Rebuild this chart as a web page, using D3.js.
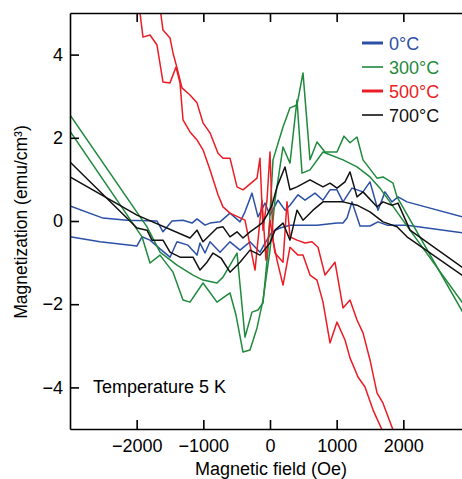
<!DOCTYPE html>
<html>
<head>
<meta charset="utf-8">
<script src="https://cdn.jsdelivr.net/npm/d3@7"></script>
<style>
  body { margin: 0; background: #fff; }
  svg { display: block; font-family: "Liberation Sans", Arial, Helvetica, sans-serif; }
</style>
</head>
<body>
<div id="chart"></div>
<script>
// Chart size
var width = 462;
var height = 479;

// Tick values
var xTicks = [-2000, -1000, 0, 1000, 2000];
var yTicks = [-4, -2, 0, 2, 4];

// Legend labels
var seriesNames = ["0°C", "300°C", "500°C", "700°C"];

// Data: [field (Oe), magnetization (emu/cm3)], two branches per sample
var blueA = [[-3000,0.36],[-2505,0.07],[-2145,0.02],[-1695,0.00],[-1605,-0.26],[-1470,0.00],[-1305,0.02],[-1170,-0.05],[-1095,0.05],[-975,-0.10],[-900,-0.05],[-750,-0.02],[-600,0.19],[-450,-0.02],[-375,0.22],[-270,0.67],[-180,0.10],[-75,0.43],[0,0.14],[120,0.50],[225,0.26],[300,0.38],[420,0.63],[525,0.50],[675,0.67],[795,0.50],[900,0.75],[1005,0.75],[1095,0.46],[1230,0.79],[1395,0.70],[1500,0.94],[1620,0.26],[1725,0.70],[1830,0.46],[1920,0.58],[2055,0.46],[3000,0.05]];
var blueB = [[-3000,-0.38],[-2550,-0.50],[-1995,-0.60],[-1920,-0.38],[-1800,-0.46],[-1650,-0.67],[-1500,-0.87],[-1395,-0.50],[-1230,-0.58],[-1095,-0.82],[-1050,-0.53],[-975,-0.77],[-900,-0.50],[-750,-0.75],[-600,-0.50],[-450,-0.70],[-300,-0.50],[-150,-0.75],[-75,-0.53],[30,-0.26],[150,-0.17],[300,-0.10],[525,-0.10],[705,-0.10],[1005,-0.05],[1095,-0.05],[1155,0.07],[1230,0.46],[1350,-0.12],[1500,-0.12],[1620,-0.02],[1755,-0.10],[2055,-0.10],[3000,-0.31]];

var greenA = [[-3000,2.55],[-1845,-0.14],[-1650,-0.75],[-1395,-1.06],[-1155,-1.30],[-1005,-1.42],[-795,-1.49],[-705,-1.35],[-495,-0.77],[-375,-2.79],[-270,-2.19],[-180,-2.14],[-105,-1.97],[-30,-0.70],[45,1.47],[195,2.26],[300,2.72],[405,2.79],[495,3.56],[600,1.47],[705,1.90],[825,1.66],[1005,1.66],[1110,2.04],[1200,1.88],[1305,2.02],[1395,1.47],[1605,1.03],[1695,1.06],[1845,0.91],[1905,0.58],[2880,-2.16],[3000,-2.50]];
var greenB = [[-3000,2.16],[-1920,-0.38],[-1800,-1.01],[-1650,-0.82],[-1455,-1.23],[-1305,-1.90],[-1200,-1.95],[-1005,-1.49],[-795,-1.95],[-600,-1.73],[-510,-2.26],[-405,-3.15],[-300,-3.10],[-195,-2.57],[-105,-1.90],[0,-0.70],[75,0.50],[195,1.78],[300,1.39],[405,2.91],[480,1.15],[600,1.23],[795,1.66],[1095,1.47],[1305,1.30],[1500,1.06],[1650,0.79],[2100,-0.22],[2880,-1.95],[3000,-2.20]];

var redA = [[-1665,5.19],[-1640,5.00],[-1605,4.59],[-1500,4.40],[-1455,4.04],[-1395,3.68],[-1320,3.20],[-1200,3.03],[-1095,2.84],[-1005,2.36],[-900,2.12],[-780,1.63],[-705,1.51],[-600,1.51],[-495,0.82],[-405,0.75],[-195,1.03],[-150,1.51],[-105,-0.22],[-45,0.50],[0,1.66],[45,-0.46],[105,-0.94],[195,-1.54],[300,-0.63],[420,-0.82],[495,-0.82],[600,-1.30],[705,-1.42],[795,-1.95],[900,-2.93],[1005,-2.43],[1125,-2.86],[1200,-3.29],[1320,-3.75],[1425,-3.99],[1545,-4.54],[1680,-5.02],[1725,-5.26]];
var redB = [[-1965,5.19],[-1950,5.00],[-1905,4.42],[-1800,4.47],[-1695,4.23],[-1605,3.34],[-1500,3.32],[-1410,3.70],[-1350,3.32],[-1305,2.43],[-1200,2.14],[-1095,1.95],[-1005,1.71],[-900,1.23],[-780,0.63],[-705,0.34],[-600,0.19],[-375,0.02],[-225,-1.18],[-120,0.50],[-60,-0.94],[0,0.02],[75,-0.77],[195,-0.99],[255,0.46],[300,-0.38],[405,-0.46],[525,-0.53],[630,-0.50],[720,-0.63],[825,-1.30],[975,-0.99],[1095,-2.09],[1200,-1.90],[1305,-2.38],[1395,-2.69],[1500,-3.34],[1605,-4.13],[1695,-4.38],[1845,-5.02],[1890,-5.26]];

var blackA = [[-3000,1.42],[-1995,-0.17],[-1845,-0.22],[-1770,-0.46],[-1605,-0.46],[-1500,-0.75],[-1350,-0.87],[-1155,-0.87],[-1050,-1.18],[-945,-0.99],[-855,-0.77],[-735,-0.89],[-600,-1.23],[-450,-0.99],[-300,-0.70],[-150,-0.82],[0,-0.53],[75,-0.22],[195,-0.05],[300,-0.46],[405,0.26],[495,0.02],[645,0.26],[795,0.46],[900,0.46],[1095,0.46],[1305,0.38],[1500,0.22],[1695,-0.02],[1905,-0.14],[2055,-0.38],[2880,-1.30],[3000,-1.42]];
var blackB = [[-3000,1.06],[-1995,0.14],[-1200,-0.41],[-1095,-0.22],[-1005,-0.50],[-795,-0.17],[-705,-0.14],[-600,-0.38],[-495,-0.26],[-405,-0.41],[-300,-0.26],[-195,-0.14],[-120,-0.05],[-45,0.14],[30,0.38],[105,0.82],[225,1.30],[300,0.75],[405,0.82],[600,0.99],[795,0.82],[900,0.91],[1005,0.79],[1125,0.94],[1200,1.18],[1305,0.58],[1395,0.70],[1605,0.34],[1695,0.46],[1830,0.38],[1920,0.43],[2100,-0.22],[2880,-1.11],[3000,-1.22]];

// Series table built from the arrays above
var series = [
  { name: seriesNames[0], color: "#2b50a6", legendWidth: 3, branches: [blueA, blueB] },
  { name: seriesNames[1], color: "#1f8a3d", legendWidth: 1.6, branches: [greenA, greenB] },
  { name: seriesNames[2], color: "#ec1c24", legendWidth: 3, branches: [redA, redB] },
  { name: seriesNames[3], color: "#111111", legendWidth: 1.6, branches: [blackA, blackB] }
];

// Plot area
var plotLeft = 70, plotRight = 470, plotTop = 13, plotBottom = 429;

var x = d3.scaleLinear().domain([-3000, 3000]).range([plotLeft, plotRight]);
var y = d3.scaleLinear().domain([-5, 5]).range([plotBottom, plotTop]);

var svg = d3.select("#chart")
  .append("svg")
  .attr("width", width)
  .attr("height", height);

// Clip the curves to the plot box
svg.append("clipPath")
  .attr("id", "plot-clip")
  .append("rect")
  .attr("x", plotLeft)
  .attr("y", plotTop)
  .attr("width", plotRight - plotLeft)
  .attr("height", plotBottom - plotTop);

var line = d3.line()
  .x(function(d) { return x(d[0]); })
  .y(function(d) { return y(d[1]); });

var curves = svg.append("g").attr("clip-path", "url(#plot-clip)");

series.forEach(function(s) {
  s.branches.forEach(function(b) {
    curves.append("path")
      .datum(b)
      .attr("d", line)
      .attr("fill", "none")
      .attr("stroke", s.color)
      .attr("stroke-width", 1.5)
      .attr("stroke-linejoin", "round");
  });
});

// Axes (ticks point inward)
var fmt = function(d) { return d3.format("d")(d).replace("-", "\u2212"); };

var gBottom = svg.append("g")
  .attr("transform", "translate(0," + plotBottom + ")")
  .call(d3.axisBottom(x).tickValues(xTicks).tickSize(-9).tickSizeOuter(0).tickPadding(10).tickFormat(fmt));

var gTop = svg.append("g")
  .attr("transform", "translate(0," + plotTop + ")")
  .call(d3.axisTop(x).tickValues(xTicks).tickSize(-9).tickSizeOuter(0).tickFormat(""));

var gLeft = svg.append("g")
  .attr("transform", "translate(" + plotLeft + ",0)")
  .call(d3.axisLeft(y).tickValues(yTicks).tickSize(-9).tickSizeOuter(0).tickPadding(7).tickFormat(fmt));

[gBottom, gTop, gLeft].forEach(function(g) {
  g.selectAll("path, line").attr("stroke", "#000").attr("stroke-width", 1.6);
  g.selectAll("text").attr("fill", "#000").style("font-size", "18px").style("font-family", "Liberation Sans, Arial, sans-serif");
});

// Axis titles
svg.append("text")
  .attr("x", 271)
  .attr("y", 475)
  .attr("text-anchor", "middle")
  .style("font-size", "18px")
  .text("Magnetic field (Oe)");

svg.append("text")
  .attr("transform", "translate(27,222) rotate(-90)")
  .attr("text-anchor", "middle")
  .style("font-size", "17.5px")
  .text("Magnetization (emu/cm³)");

// Annotation
svg.append("text")
  .attr("x", 93)
  .attr("y", 393)
  .style("font-size", "18px")
  .text("Temperature 5 K");

// Legend
var legend = svg.append("g").attr("transform", "translate(362,43)");
series.forEach(function(s, i) {
  var row = legend.append("g").attr("transform", "translate(0," + (i * 24) + ")");
  row.append("line")
    .attr("x1", 0).attr("x2", 21)
    .attr("y1", 0).attr("y2", 0)
    .attr("stroke", s.color)
    .attr("stroke-width", s.legendWidth);
  row.append("text")
    .attr("x", 27)
    .attr("y", 6.5)
    .attr("fill", s.color)
    .style("font-size", "18px")
    .text(s.name);
});
</script>
</body>
</html>
